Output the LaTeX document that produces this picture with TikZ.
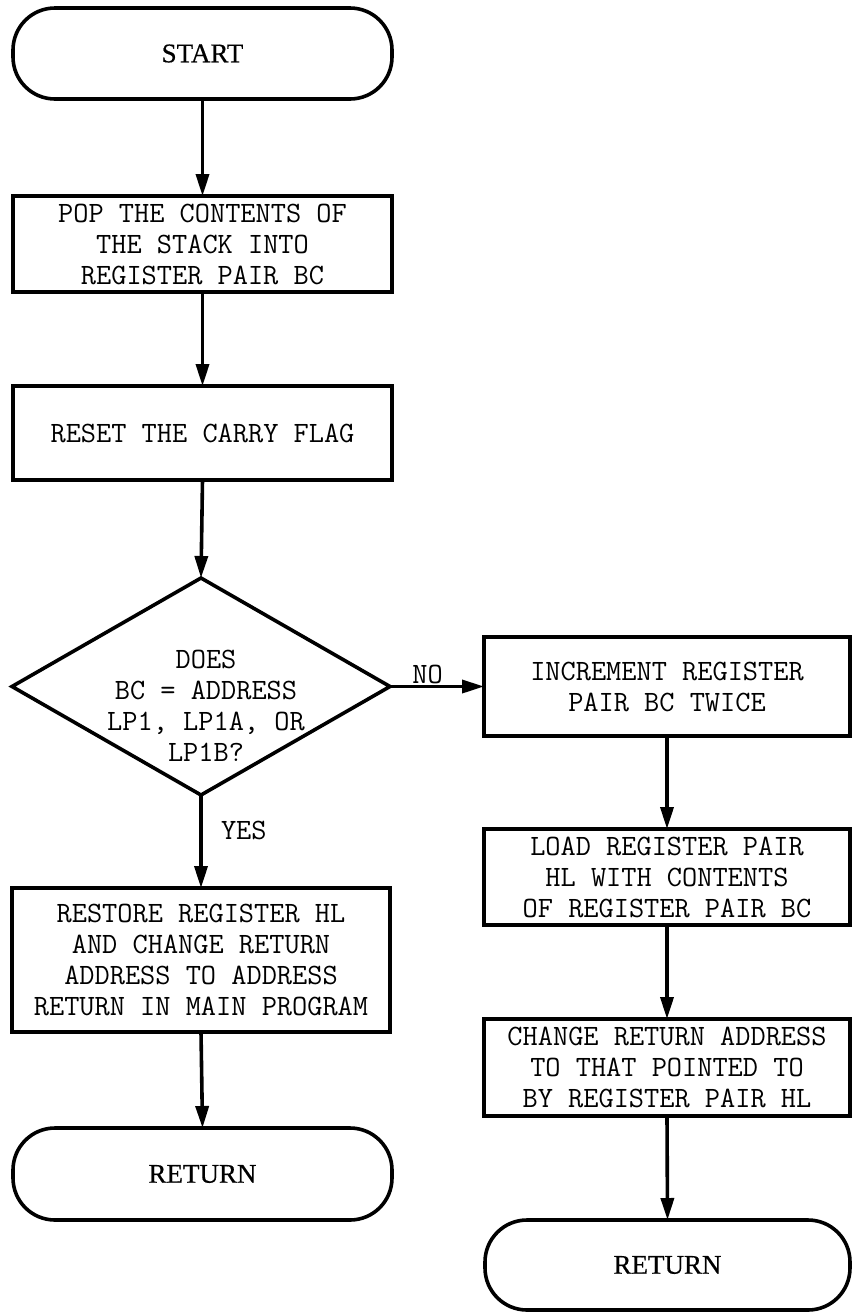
\documentclass[tikz,border=0pt]{standalone}
\usepackage{fontspec}
\setmainfont{Liberation Serif}
\usetikzlibrary{arrows.meta,shapes.geometric}
\begin{document}
\begin{tikzpicture}[x=1pt,y=-1pt,
  every node/.style={inner sep=0pt, outer sep=0pt},
  tt/.style={font=\ttfamily\fontsize{29.5}{31}\selectfont\addfontfeatures{FakeBold=2.5}, align=center},
  boxs/.style={draw, line width=3.6pt, rectangle, tt},
  term/.style={draw, line width=3.6pt, rectangle, rounded corners=42pt,
    font=\rmfamily\fontsize{27}{32}\selectfont\addfontfeatures{FakeBold=0.5}},
  arr/.style={line width=3.6pt, -{Triangle[length=22pt,width=13pt]}}
]
\useasboundingbox (0,0) rectangle (852,1312);

% left column
\node[term, minimum width=379pt, minimum height=91pt] (start) at (202.5,53.5) {START};
\node[boxs, minimum width=379pt, minimum height=96pt] (pop) at (202.5,244)
  {POP THE CONTENTS OF\\THE STACK INTO\\REGISTER PAIR BC};
\node[boxs, minimum width=379pt, minimum height=94pt] (reset) at (202.5,433)
  {RESET THE CARRY FLAG};
\node[draw, line width=3.6pt, diamond, minimum width=378pt, minimum height=217pt] (dec) at (201,686.5) {};
\node[tt] (dectext) at (206,706) {DOES\\BC = ADDRESS\\LP1, LP1A, OR\\LP1B?};
\node[boxs, minimum width=378pt, minimum height=144pt] (restore) at (201,960)
  {RESTORE REGISTER HL\\AND CHANGE RETURN\\ADDRESS TO ADDRESS\\RETURN IN MAIN PROGRAM};
\node[term, minimum width=379pt, minimum height=92pt] (ret1) at (202.5,1174) {RETURN};

% right column
\node[boxs, minimum width=366pt, minimum height=99pt] (inc) at (667,686.5)
  {INCREMENT REGISTER\\PAIR BC TWICE};
\node[boxs, minimum width=366pt, minimum height=96pt] (load) at (667,877)
  {LOAD REGISTER PAIR\\HL WITH CONTENTS\\OF REGISTER PAIR BC};
\node[boxs, minimum width=366pt, minimum height=97pt] (change) at (667,1067.5)
  {CHANGE RETURN ADDRESS\\TO THAT POINTED TO\\BY REGISTER PAIR HL};
\node[term, minimum width=365pt, minimum height=90pt] (ret2) at (667.5,1265) {RETURN};

% connectors
\draw[arr] (start.south) -- (pop.north);
\draw[arr] (pop.south) -- (reset.north);
\draw[arr] (reset.south) -- (dec.north);
\draw[arr] (dec.south) -- (restore.north)
  node[pos=0.38, anchor=west, xshift=20pt, tt] (yeslbl) {YES};
\draw[arr] (restore.south) -- (ret1.north);
\draw[arr] (dec.east) -- (inc.west)
  node[pos=0.40, anchor=base, yshift=3pt, tt] (nolbl) {NO};
\draw[arr] (inc.south) -- (load.north);
\draw[arr] (load.south) -- (change.north);
\draw[arr] (change.south) -- (ret2.north);
\end{tikzpicture}
\end{document}
